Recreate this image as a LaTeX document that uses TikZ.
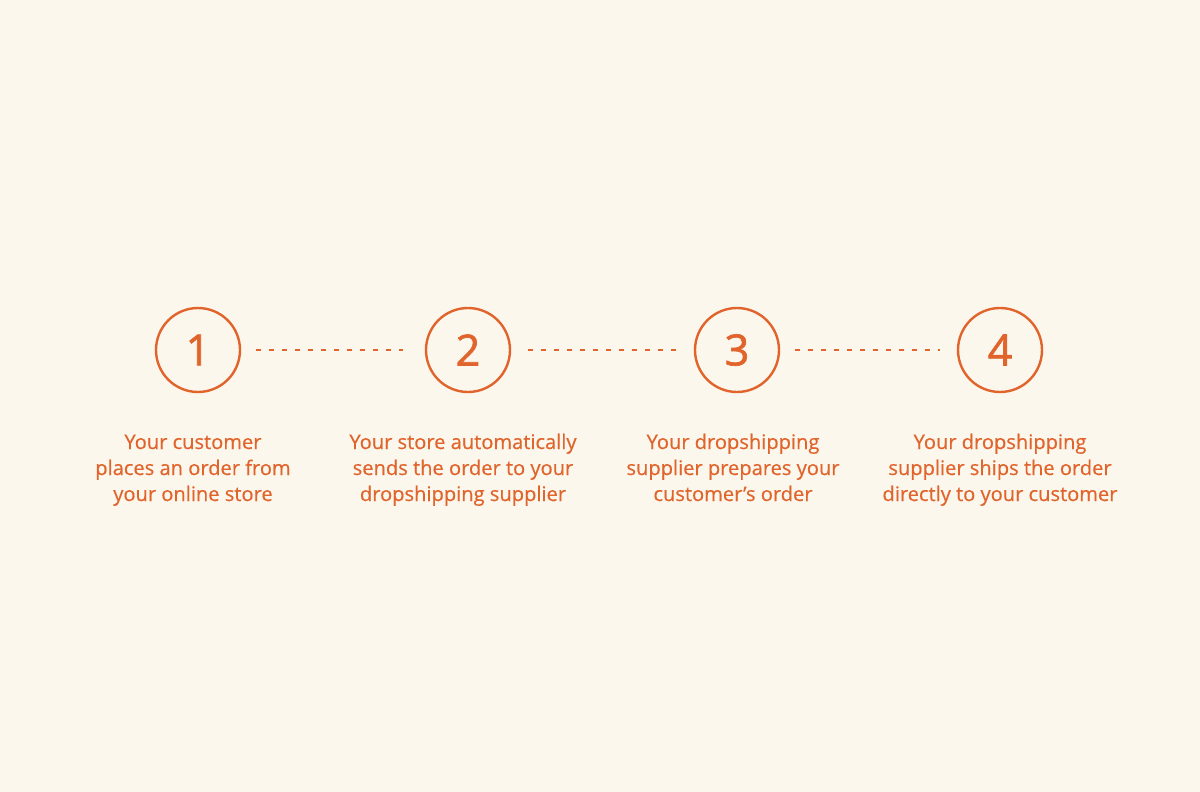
\documentclass[tikz,border=0pt]{standalone}
\usepackage{fontspec}
\setmainfont{Open Sans}
\newfontfamily\digitfont[FakeBold=1.6]{Open Sans}
\newfontfamily\labelfont[FakeBold=0.5]{Open Sans}
\definecolor{bg}{HTML}{FCF7EC}
\definecolor{org}{HTML}{E0642C}
\begin{document}
\begin{tikzpicture}[x=1pt,y=-1pt,
  stepcircle/.style={circle,draw=org,line width=2.4pt,minimum size=84pt,inner sep=0pt,text=org,font=\digitfont\fontsize{43}{43}\selectfont},
  steptext/.style={text=org,align=center,anchor=base,font=\labelfont\fontsize{20.1}{26}\selectfont},
  dots/.style={draw=org,line width=1.4pt,dash pattern=on 5pt off 8pt}]
\fill[bg] (0,0) rectangle (1200,792);
\useasboundingbox (0,0) rectangle (1200,792);
\node[stepcircle] (c1) at (198,350) {1};
\node[stepcircle] (c2) at (468,350) {2};
\node[stepcircle] (c3) at (737,350) {3};
\node[stepcircle] (c4) at (1000,350) {4};
\draw[dots,shorten <=15pt,shorten >=22pt] (c1) -- (c2);
\draw[dots,shorten <=17pt,shorten >=18pt] (c2) -- (c3);
\draw[dots,shorten <=15pt,shorten >=17pt] (c3) -- (c4);
\node[steptext] (t1) at (193,501) {Your customer\\places an order from\\your online store};
\node[steptext] (t2) at (463,501) {Your store automatically\\sends the order to your\\dropshipping supplier};
\node[steptext] (t3) at (733,501) {Your dropshipping\\supplier prepares your\\customer’s order};
\node[steptext] (t4) at (1000,501) {Your dropshipping\\supplier ships the order\\directly to your customer};
\end{tikzpicture}
\end{document}
